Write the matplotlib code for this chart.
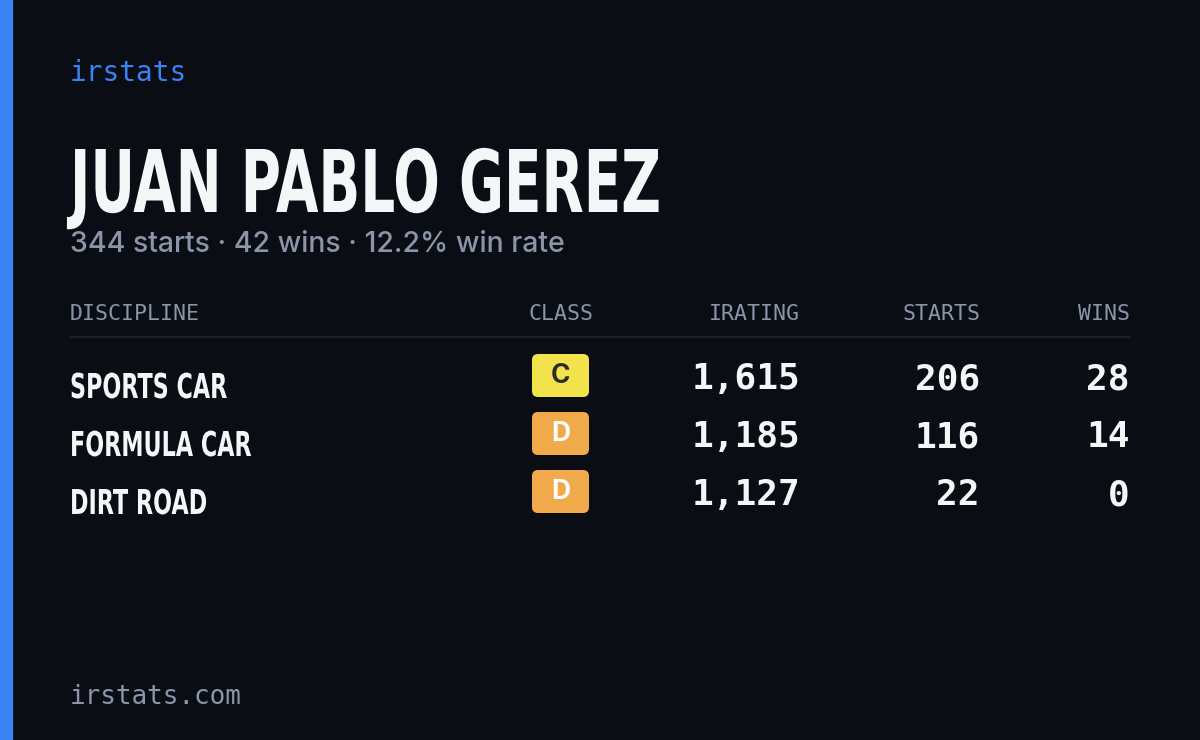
import matplotlib
matplotlib.use("Agg")
import matplotlib.pyplot as plt
from matplotlib.patches import Rectangle, FancyBboxPatch, PathPatch
from matplotlib.textpath import TextPath
from matplotlib.font_manager import FontProperties
from matplotlib.transforms import Affine2D

name = "JUAN PABLO GEREZ"
summary = "344 starts · 42 wins · 12.2% win rate"
headers = ["DISCIPLINE", "CLASS", "IRATING", "STARTS", "WINS"]
disciplines = ["SPORTS CAR", "FORMULA CAR", "DIRT ROAD"]
classes = ["C", "D", "D"]
iratings = [1615, 1185, 1127]
starts = [206, 116, 22]
wins = [28, 14, 0]

W, H = 1200, 740
fig = plt.figure(figsize=(12, 7.4), dpi=100)
fig.patch.set_facecolor("#0a0d14")
ax = fig.add_axes([0, 0, 1, 1])
ax.set_xlim(0, W); ax.set_ylim(H, 0); ax.axis("off")

BOLD = FontProperties(family="DejaVu Sans", weight="bold")
CAP = TextPath((0, 0), "H", size=100, prop=BOLD).get_extents().height

def cond_text(x, baseline, s, cap_h, xscale, color):
    tp = TextPath((0, 0), s, size=100, prop=BOLD)
    k = cap_h / CAP
    tr = Affine2D().scale(k * xscale, -k).translate(x, baseline)
    ax.add_patch(PathPatch(tr.transform_path(tp), fc=color, ec="none"))

ax.add_patch(Rectangle((0, 0), 12, H, color="#3b82f6"))
ax.text(70, 73, "irstats", color="#3b82f6", fontsize=20, family="DejaVu Sans Mono", va="center")
cond_text(70, 212, name, 63, 0.635, "#f5f6f8")
ax.text(70, 245, summary, color="#8b95a7", fontsize=20.5, family="Inter", weight="medium", va="center")

hx = [70, 593, 800, 980, 1130]
ha = ["left", "right", "right", "right", "right"]
for x, h, a in zip(hx, headers, ha):
    ax.text(x, 314, h, color="#8b95a7", fontsize=15.5, family="DejaVu Sans Mono", ha=a, va="center")
ax.plot([70, 1130], [337, 337], color="#1f2430", lw=1.2)

badge = {"C": ("#f2e34c", "#2a2a2a"), "D": ("#f0a94b", "#ffffff")}
for i in range(len(disciplines)):
    y = 380 + 58 * i
    cond_text(70, y + 18, disciplines[i], 25, 0.65, "#f5f6f8")
    fc, tc = badge[classes[i]]
    ax.add_patch(FancyBboxPatch((532, y - 26), 57, 43, boxstyle="round,pad=0,rounding_size=6", fc=fc, ec="none"))
    ax.text(560.5, y - 4, classes[i], color=tc, fontsize=19, weight="bold", family="Inter", ha="center", va="center")
    for x, v in zip(hx[2:], [iratings[i], starts[i], wins[i]]):
        ax.text(x, y - 1, f"{v:,}", color="#f5f6f8", fontsize=26, family="DejaVu Sans Mono", weight="bold", ha="right", va="center")

ax.text(70, 697, "irstats.com", color="#8b95a7", fontsize=18.7, family="DejaVu Sans Mono", va="center")
fig.savefig("out.png", dpi=100, facecolor=fig.get_facecolor())
